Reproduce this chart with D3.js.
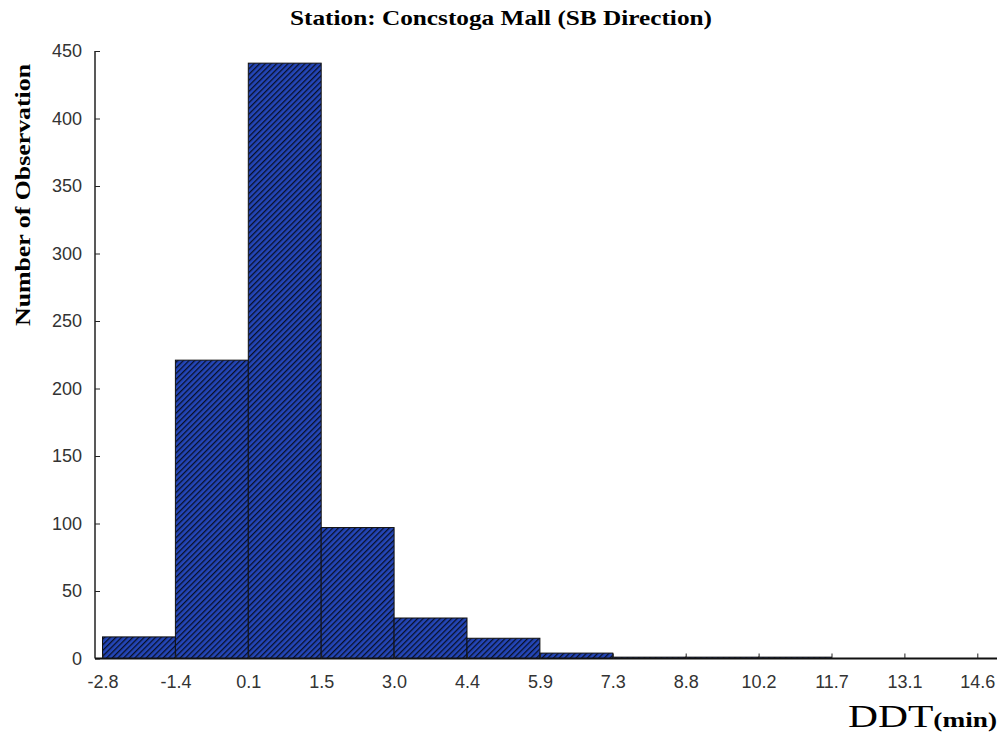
<!DOCTYPE html>
<html>
<head>
<meta charset="utf-8">
<script src="https://cdn.jsdelivr.net/npm/d3@7"></script>
<style>
  body { margin: 0; background: #fff; }
  svg { display: block; }
</style>
</head>
<body>
<svg></svg>
<script>
// bin edge labels along the x axis
var binLabels = ["-2.8", "-1.4", "0.1", "1.5", "3.0", "4.4", "5.9", "7.3", "8.8", "10.2", "11.7", "13.1", "14.6"];
// counts per bin (bin i runs from label i to label i+1)
var counts = [16, 221, 441, 97, 30, 15, 4, 1, 1, 1, 0, 0];
var yTicks = [0, 50, 100, 150, 200, 250, 300, 350, 400, 450];

var svgWidth = 1001;
var svgHeight = 736;

var svg = d3.select("svg")
    .attr("width", svgWidth)
    .attr("height", svgHeight);

var x = d3.scaleLinear()
    .domain([0, binLabels.length - 1])
    .range([102.5, 977.3]);

var y = d3.scaleLinear()
    .domain([0, 450])
    .range([658.5, 51]);

// hatch fill
var defs = svg.append("defs");
var pat = defs.append("pattern")
    .attr("id", "hatch")
    .attr("patternUnits", "userSpaceOnUse")
    .attr("width", 4)
    .attr("height", 4)
    .attr("patternTransform", "rotate(45)");
pat.append("rect")
    .attr("width", 4).attr("height", 4)
    .attr("fill", "#2446b8");
pat.append("rect")
    .attr("x", 0).attr("y", 0)
    .attr("width", 1.3).attr("height", 4)
    .attr("fill", "#081028");

// bars
svg.selectAll("rect.bar")
  .data(counts)
  .enter()
  .append("rect")
  .attr("class", "bar")
  .attr("x", function(d, i) { return x(i); })
  .attr("width", function(d, i) { return x(i + 1) - x(i); })
  .attr("y", function(d) { return y(d); })
  .attr("height", function(d) { return y(0) - y(d); })
  .attr("fill", "url(#hatch)")
  .attr("stroke", "#111")
  .attr("stroke-width", 1)
  .style("display", function(d) { return d > 0 ? null : "none"; });

// y axis
var yAxis = d3.axisLeft(y)
    .tickValues(yTicks)
    .tickSize(-5)
    .tickPadding(13)
    .tickSizeOuter(0);
var gy = svg.append("g")
    .attr("transform", "translate(95,0)")
    .call(yAxis);
gy.select(".domain").attr("stroke", "#222").attr("stroke-width", 1.5)
  .attr("d", "M0," + y(450) + "V" + y(0));
gy.selectAll(".tick line").attr("stroke", "#222");
gy.selectAll(".tick text")
  .attr("fill", "#333")
  .style("font-family", "'Liberation Sans', Arial, sans-serif")
  .style("font-size", "18px");

// x axis
var xAxis = d3.axisBottom(x)
    .tickValues(d3.range(binLabels.length))
    .tickFormat(function(i) { return binLabels[i]; })
    .tickSize(-5)
    .tickPadding(17)
    .tickSizeOuter(0);
var gx = svg.append("g")
    .attr("transform", "translate(0," + y(0) + ")")
    .call(xAxis);
gx.select(".domain").attr("stroke", "#111").attr("stroke-width", 2)
  .attr("d", "M95,0H997");
gx.selectAll(".tick line").attr("stroke", "#222");
gx.selectAll(".tick text")
  .attr("fill", "#333")
  .style("font-family", "'Liberation Sans', Arial, sans-serif")
  .style("font-size", "18px");

// title
svg.append("text")
  .attr("x", 501)
  .attr("y", 25)
  .attr("text-anchor", "middle")
  .attr("textLength", 422)
  .attr("lengthAdjust", "spacingAndGlyphs")
  .style("font-family", "'Liberation Serif', 'Times New Roman', serif")
  .style("font-weight", "bold")
  .style("font-size", "21px")
  .text("Station: Concstoga Mall (SB Direction)");

// y label
svg.append("text")
  .attr("transform", "translate(30,195) rotate(-90)")
  .attr("text-anchor", "middle")
  .attr("textLength", 262)
  .attr("lengthAdjust", "spacingAndGlyphs")
  .style("font-family", "'Liberation Serif', 'Times New Roman', serif")
  .style("font-weight", "bold")
  .style("font-size", "22px")
  .text("Number of Observation");

// x label
var xl = svg.append("text")
  .attr("x", 848)
  .attr("y", 727)
  .attr("textLength", 149)
  .attr("lengthAdjust", "spacingAndGlyphs")
  .style("font-family", "'Liberation Serif', 'Times New Roman', serif");
xl.append("tspan")
  .style("font-size", "32px")
  .text("DDT");
xl.append("tspan")
  .style("font-size", "21px")
  .style("font-weight", "bold")
  .text("(min)");
</script>
</body>
</html>
